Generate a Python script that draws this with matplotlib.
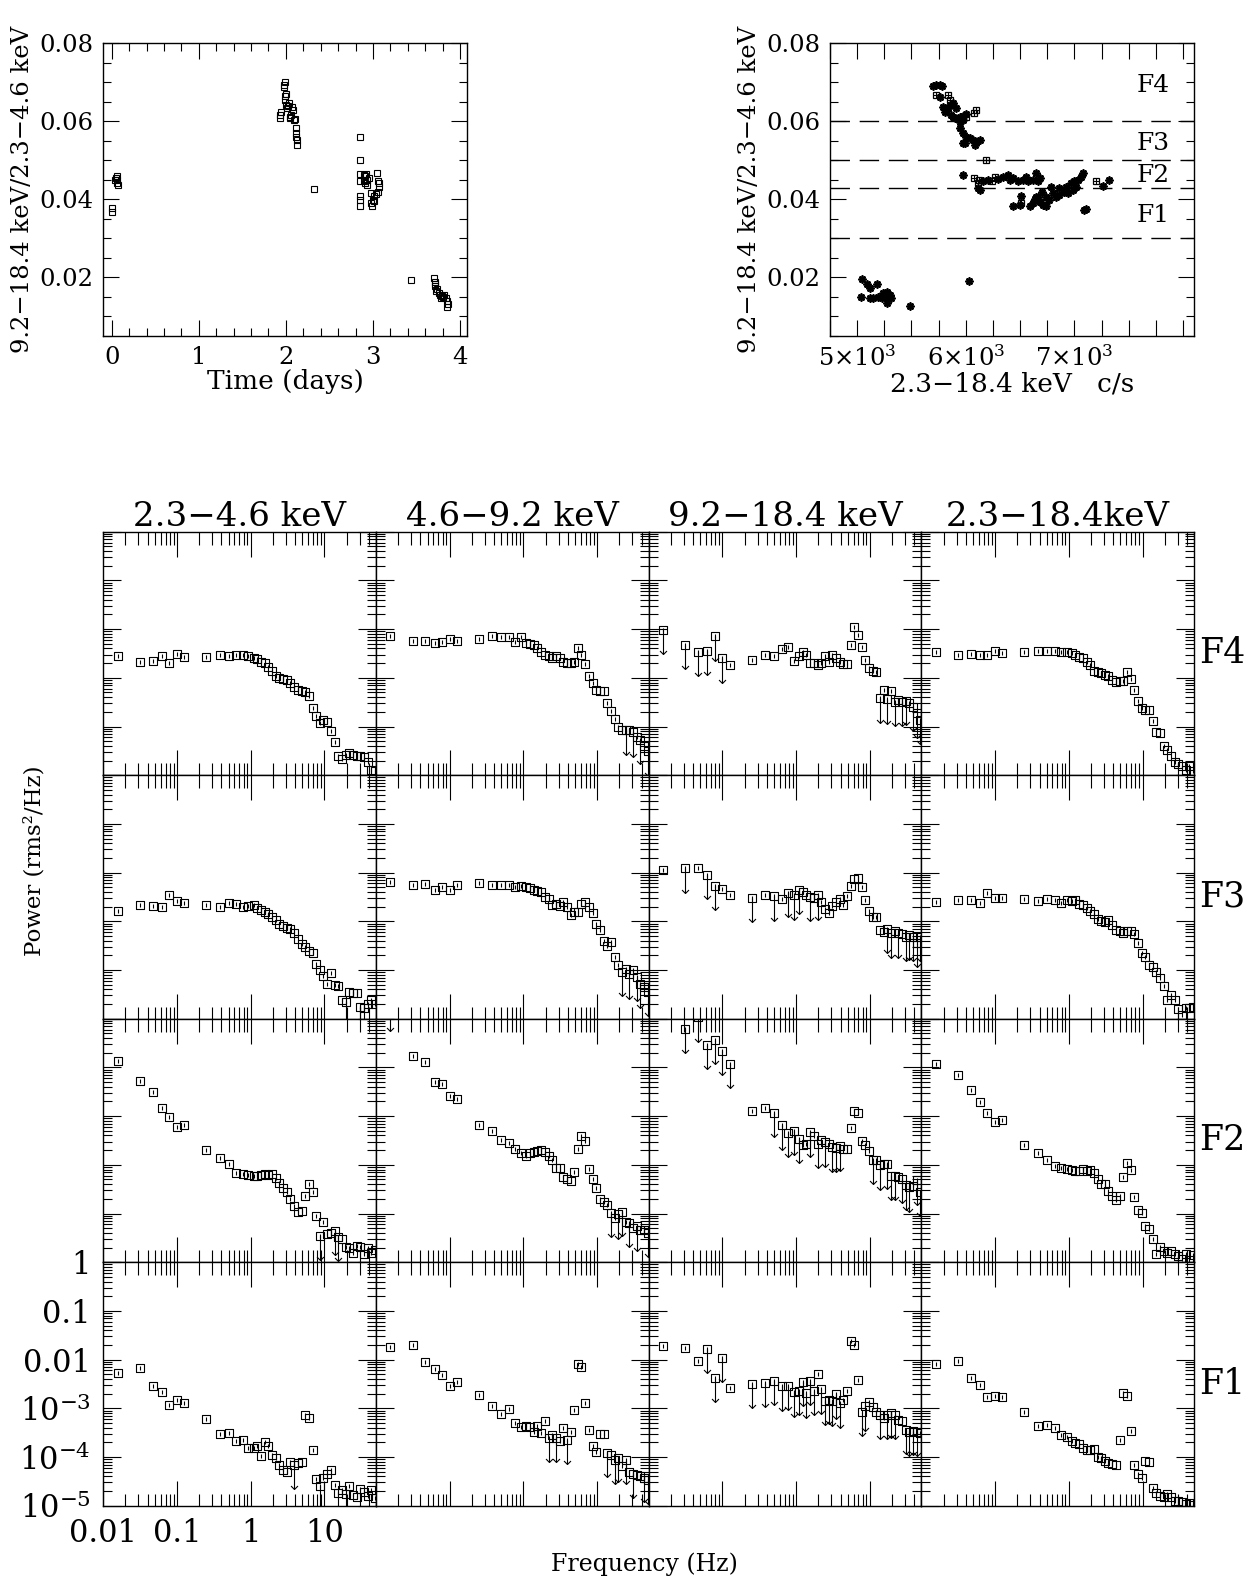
import os

os.environ.setdefault("MPLBACKEND", "Agg")

import numpy as np
import matplotlib.pyplot as plt
from matplotlib.path import Path
from matplotlib.ticker import (LogLocator, MultipleLocator, FuncFormatter,
                               FormatStrFormatter)

plt.rcParams["font.family"] = ["DejaVu Serif"]
plt.rcParams["mathtext.fontset"] = "dejavuserif"
plt.rcParams["axes.linewidth"] = 1.0

# ---------------- hardness ratio vs time (top left) ----------------
time_days = [0.0, 0.0, 0.05, 0.057, 0.065, 0.077, 0.038, 0.057,
             1.927, 1.935, 1.943, 1.973, 1.981, 1.992, 1.992, 2.004, 2.011,
             2.031, 2.042, 2.057, 2.069, 2.080, 2.088, 2.100, 2.111, 2.119,
             2.126, 2.126, 2.119, 1.985, 2.000, 2.020, 2.050,
             2.318,
             2.847, 2.847, 2.847, 2.847, 2.847, 2.847, 2.847, 2.893, 2.912,
             2.931, 2.912, 2.931, 2.893, 2.977, 2.989, 3.000, 2.977, 3.008,
             3.015, 3.046, 3.054, 3.065, 3.054, 3.038, 3.073, 2.920, 2.950,
             3.437,
             3.705, 3.709, 3.716, 3.720, 3.736, 3.755, 3.774, 3.782, 3.801,
             3.812, 3.843, 3.851, 3.858, 3.851, 3.712, 3.790]
hr_time = [0.0378, 0.0369, 0.0455, 0.0449, 0.0443, 0.0437, 0.0450, 0.0459,
           0.0608, 0.0617, 0.0625, 0.0693, 0.0689, 0.0664, 0.0655, 0.0642, 0.0634,
           0.0647, 0.0608, 0.0617, 0.0638, 0.0629, 0.0604, 0.0606, 0.0582, 0.0570,
           0.0553, 0.0540, 0.0561, 0.0700, 0.0670, 0.0640, 0.0612,
           0.0426,
           0.0559, 0.0501, 0.0466, 0.0446, 0.0408, 0.0399, 0.0382, 0.0463, 0.0459,
           0.0450, 0.0443, 0.0437, 0.0446, 0.0391, 0.0382, 0.0399, 0.0416, 0.0408,
           0.0395, 0.0467, 0.0446, 0.0433, 0.0420, 0.0414, 0.0443, 0.0465, 0.0455,
           0.0193,
           0.0199, 0.0188, 0.0177, 0.0165, 0.0170, 0.0160, 0.0154, 0.0148, 0.0151,
           0.0155, 0.0148, 0.0139, 0.0133, 0.0125, 0.0183, 0.0152]

# ---------------- hardness ratio vs count rate (top right) ----------------
rate_star = [5698, 5729, 5760, 5784, 5790, 5821, 5851, 5882, 5913, 5806, 5867,
             5897, 5943, 5974, 6005, 5974, 5943, 5882, 5836, 5766,
             5943, 5974, 6005, 5989, 6035, 6066, 6097, 6127, 6081, 5974,
             5974, 6112, 6127, 6158, 6342, 6388, 6434, 6479, 6525, 6556, 6571,
             6617, 6648, 6663, 6679, 6300, 6410, 6200,
             6434, 6510, 6495, 6587, 6617, 6633, 6663, 6679, 6709, 6740, 6740,
             6770, 6801, 6832, 6862, 6908, 6939, 6924, 6970, 7000, 7031, 7061,
             7077, 7015, 6985, 6786, 6862, 6700, 6650,
             7092, 7107, 7261, 7322,
             5049, 5086, 5116, 5178, 5031, 5116, 5147, 5193, 5239, 5270, 5300,
             5315, 5270, 5224, 5255, 5286, 5490, 6026]
hr_star = [0.0691, 0.0693, 0.0693, 0.0691, 0.0638, 0.0629, 0.0642, 0.0646, 0.0633,
           0.0625, 0.0616, 0.0608, 0.0612, 0.0614, 0.0619, 0.0603, 0.0599, 0.0612,
           0.0633, 0.0662,
           0.0582, 0.0570, 0.0561, 0.0544, 0.0557, 0.0553, 0.0548, 0.0553, 0.0540,
           0.0544,
           0.0463, 0.0430, 0.0425, 0.0446, 0.0458, 0.0463, 0.0454, 0.0446, 0.0450,
           0.0458, 0.0446, 0.0450, 0.0467, 0.0446, 0.0454, 0.0452, 0.0450, 0.0450,
           0.0382, 0.0409, 0.0385, 0.0382, 0.0390, 0.0400, 0.0407, 0.0394, 0.0385,
           0.0382, 0.0407, 0.0398, 0.0416, 0.0407, 0.0411, 0.0420, 0.0416, 0.0433,
           0.0442, 0.0446, 0.0450, 0.0458, 0.0467, 0.0433, 0.0424, 0.0433, 0.0429,
           0.0420, 0.0405,
           0.0372, 0.0375, 0.0435, 0.0450,
           0.0196, 0.0182, 0.0173, 0.0182, 0.0151, 0.0147, 0.0147, 0.0151, 0.0160,
           0.0164, 0.0156, 0.0147, 0.0134, 0.0147, 0.0155, 0.0150, 0.0126, 0.0192]
rate_box = [5729, 5836, 6072, 6097, 6182, 6072, 6121, 6112, 6244, 6265, 6510,
            7199, 5851, 6005]
hr_box = [0.0668, 0.0668, 0.0622, 0.0628, 0.0501, 0.0454, 0.0450, 0.0442,
          0.0446, 0.0458, 0.0392, 0.0446, 0.0655, 0.0610]
hr_cuts = [0.060, 0.050, 0.043, 0.030]
state_names = ["F4", "F3", "F2", "F1"]
state_label_hr = [0.0693, 0.0544, 0.0460, 0.0360]

# ---------------- power spectra ----------------
freq_hz = [0.0156, 0.0313, 0.0469, 0.0625, 0.0781, 0.1, 0.125, 0.25, 0.38,
           0.5, 0.64, 0.78, 0.93,
           1.1, 1.23, 1.38, 1.55, 1.74, 1.95, 2.2, 2.45, 2.75, 3.1, 3.45, 3.9,
           4.35, 4.9, 5.5, 6.1, 6.9, 7.7, 8.7, 9.7, 10.9, 12.2, 13.7, 15.4,
           17.3, 19.4, 21.7, 24.4, 27.4, 30.7, 34.4, 38.6, 43.3, 48.6]
band_titles = ["2.3\u22124.6 keV", "4.6\u22129.2 keV", "9.2\u221218.4 keV",
               "2.3\u221218.4keV"]

# log10 of power (rms^2/Hz)
f4_soft = [-2.56, -2.67, -2.65, -2.55, -2.69, -2.51, -2.58, -2.58, -2.53, -2.55,
           -2.53, -2.53, -2.56,
           -2.60, -2.62, -2.67, -2.70, -2.77, -2.87, -2.97, -3.01, -3.03, -3.04,
           -3.11, -3.19, -3.25, -3.28, -3.29, -3.38, -3.62, -3.79, -3.93, -3.87,
           -3.90, -4.10, -4.31, -4.61, -4.67, -4.58, -4.55, -4.58, -4.61, -4.61,
           -4.63, -4.72, -4.89, -4.92]
f4_mid = [-2.15, -2.24, -2.24, -2.29, -2.26, -2.20, -2.24, -2.20, -2.15, -2.17,
          -2.17, -2.26, -2.17,
          -2.28, -2.30, -2.32, -2.39, -2.46, -2.53, -2.56, -2.60, -2.56, -2.60,
          -2.67, -2.70, -2.70, -2.67, -2.39, -2.53, -2.71, -2.97, -3.10, -3.25,
          -3.27, -3.27, -3.52, -3.69, -3.85, -4.01, -4.07, -4.08, -4.08, -4.12,
          -4.22, -4.27, -4.41, -4.51]
f4_hard = [-2.02, -2.32, -2.46, -2.45, -2.15, -2.60, -2.73, -2.63, -2.53, -2.55,
           -2.41, -2.37, -2.65,
           -2.56, -2.48, -2.53, -2.70, -2.70, -2.73, -2.70, -2.56, -2.67, -2.53,
           -2.60, -2.67, -2.71, -2.71, -2.32, -1.95, -2.13, -2.36, -2.63, -2.80,
           -2.87, -2.89, -3.42, -3.25, -3.44, -3.28, -3.49, -3.45, -3.49, -3.47,
           -3.52, -3.59, -3.73, -3.86]
f4_total = [-2.47, -2.53, -2.51, -2.53, -2.53, -2.45, -2.49, -2.47, -2.44, -2.44,
            -2.44, -2.46, -2.48,
            -2.49, -2.53, -2.58, -2.60, -2.67, -2.73, -2.87, -2.89, -2.90, -2.94,
            -2.97, -3.04, -3.08, -3.06, -3.06, -2.89, -3.03, -3.25, -3.47, -3.62,
            -3.67, -3.67, -3.88, -4.12, -4.13, -4.41, -4.48, -4.61, -4.72, -4.78,
            -4.82, -4.89, -4.82, -4.92]
f4_ul = [[], [40, 42, 44, 46], [0, 1, 2, 3, 4, 5, 35, 37, 39, 41, 42, 44, 45, 46], []]

f3_soft = [-2.79, -2.66, -2.69, -2.71, -2.47, -2.58, -2.62, -2.67, -2.71, -2.62,
           -2.65, -2.71, -2.69,
           -2.67, -2.72, -2.76, -2.81, -2.84, -2.91, -2.98, -3.05, -3.10, -3.14,
           -3.15, -3.25, -3.36, -3.47, -3.53, -3.60, -3.65, -3.87, -4.01, -4.13,
           -4.28, -4.07, -4.31, -4.33, -4.61, -4.66, -4.45, -4.47, -4.48, -4.77,
           -4.79, -4.70, -4.62, -4.70]
f3_mid = [-2.19, -2.26, -2.23, -2.35, -2.30, -2.36, -2.26, -2.21, -2.26, -2.26,
          -2.26, -2.30, -2.28,
          -2.29, -2.31, -2.35, -2.38, -2.40, -2.50, -2.54, -2.67, -2.64, -2.69,
          -2.61, -2.71, -2.88, -2.81, -2.81, -2.64, -2.61, -2.71, -2.83, -3.06,
          -3.17, -3.40, -3.51, -3.43, -3.73, -3.90, -4.04, -3.97, -4.09, -3.99,
          -4.14, -4.28, -4.35, -4.45]
f3_hard = [-1.95, -1.91, -1.90, -2.04, -2.27, -2.33, -2.45, -2.52, -2.45, -2.49,
           -2.54, -2.42, -2.47,
           -2.35, -2.40, -2.45, -2.50, -2.52, -2.47, -2.60, -2.74, -2.83, -2.69,
           -2.60, -2.54, -2.67, -2.49, -2.28, -2.13, -2.11, -2.30, -2.56, -2.78,
           -2.91, -2.91, -3.17, -3.22, -3.15, -3.25, -3.20, -3.25, -3.27, -3.32,
           -3.29, -3.32, -3.44, -3.32]
f3_total = [-2.61, -2.56, -2.57, -2.62, -2.42, -2.52, -2.52, -2.54, -2.59, -2.54,
            -2.57, -2.62, -2.57,
            -2.58, -2.56, -2.64, -2.67, -2.72, -2.78, -2.86, -2.95, -2.99, -3.01,
            -2.98, -3.08, -3.17, -3.19, -3.25, -3.20, -3.19, -3.27, -3.44, -3.65,
            -3.73, -3.90, -3.94, -4.04, -4.16, -4.33, -4.62, -4.52, -4.62, -4.81,
            -4.93, -4.79, -4.79, -4.77]
f3_ul = [[38, 42, 43], [39, 41, 43, 44, 46],
         [1, 3, 4, 7, 9, 11, 12, 13, 16, 18, 37, 38, 40, 42, 43, 44, 45, 46], []]

f2_soft = [-0.86, -1.27, -1.51, -1.83, -2.02, -2.23, -2.19, -2.69, -2.86, -2.99,
           -3.16, -3.18, -3.20,
           -3.23, -3.22, -3.20, -3.18, -3.21, -3.19, -3.27, -3.37, -3.47, -3.56,
           -3.70, -3.85, -3.97, -3.95, -3.64, -3.39, -3.56, -4.05, -4.46, -4.18,
           -4.43, -4.40, -4.36, -4.48, -4.52, -4.68, -4.71, -4.81, -4.67, -4.68,
           -4.84, -4.71, -4.81, -4.74]
f2_mid = [0.25, -0.77, -0.89, -1.29, -1.35, -1.59, -1.64, -2.19, -2.31, -2.49,
          -2.56, -2.67, -2.76,
          -2.81, -2.75, -2.74, -2.72, -2.70, -2.73, -2.82, -2.91, -3.06, -3.06,
          -3.25, -3.29, -3.34, -3.15, -2.67, -2.40, -2.51, -3.08, -3.29, -3.47,
          -3.71, -3.76, -3.83, -3.98, -4.09, -4.02, -3.97, -4.18, -4.19, -4.29,
          -4.26, -4.33, -4.33, -4.40]
f2_hard = [np.nan, -0.21, 0.03, -0.54, -0.43, -0.66, -0.92, -1.89, -1.84, -1.93,
           -2.19, -2.34, -2.30,
           -2.47, -2.60, -2.58, -2.33, -2.40, -2.57, -2.50, -2.54, -2.58, -2.64,
           -2.65, -2.62, -2.67, -2.67, -2.24, -1.90, -1.94, -2.52, -2.60, -2.72,
           -2.90, -2.91, -3.01, -2.98, -2.99, -3.22, -3.22, -3.25, -3.29, -3.42,
           -3.46, -3.44, -3.32, -3.56]
f2_total = [-0.92, -1.15, -1.47, -1.72, -1.93, -2.13, -2.08, -2.59, -2.75, -2.90,
            -3.03, -3.07, -3.09,
            -3.10, -3.12, -3.12, -3.08, -3.12, -3.10, -3.17, -3.29, -3.39, -3.40,
            -3.53, -3.65, -3.73, -3.65, -3.25, -2.97, -3.10, -3.67, -3.93, -3.99,
            -4.25, -4.32, -4.52, -4.83, -4.69, -4.76, -4.81, -4.77, -4.84, -4.88,
            -4.93, -4.83, -4.96, -4.86]
f2_ul = [[31, 35, 36], [0, 36, 38, 39, 41, 43, 46],
         [1, 2, 3, 4, 5, 6, 9, 10, 11, 12, 13, 16, 18, 20, 22, 23, 24, 33, 35,
          37, 38, 39, 41, 42, 43, 45, 46], []]

f1_soft = [-2.27, -2.18, -2.55, -2.66, -2.94, -2.83, -2.90, -3.22, -3.53, -3.50,
           -3.67, -3.65, -3.82,
           -3.81, -3.78, -3.97, -3.69, -3.78, -3.95, -4.02, -4.16, -4.26, -4.30,
           -4.11, -4.16, -4.13, -4.11, -3.13, -3.19, -3.85, -4.45, -4.60, -4.43,
           -4.35, -4.26, -4.58, -4.74, -4.67, -4.76, -4.60, -4.79, -4.83, -4.65,
           -4.72, -4.81, -4.67, -4.84]
f1_mid = [-1.75, -1.71, -2.05, -2.19, -2.31, -2.55, -2.46, -2.72, -2.95, -3.12,
          -3.01, -3.30, -3.39,
          -3.37, -3.39, -3.48, -3.37, -3.51, -3.27, -3.61, -3.54, -3.61, -3.68,
          -3.41, -3.65, -3.48, -3.03, -2.10, -2.16, -2.89, -3.44, -3.78, -3.89,
          -3.53, -3.53, -3.92, -3.95, -4.06, -4.02, -4.19, -4.06, -4.30, -4.35,
          -4.37, -4.40, -4.43, -4.47]
f1_hard = [-1.72, -1.77, -2.03, -1.78, -2.38, -1.97, -2.59, -2.50, -2.48, -2.43,
           -2.55, -2.54, -2.67,
           -2.64, -2.46, -2.69, -2.44, -2.64, -2.30, -2.61, -2.85, -2.83, -2.86,
           -2.71, -2.90, -2.83, -2.64, -1.62, -1.70, -2.42, -3.07, -2.96, -2.87,
           -2.98, -3.08, -3.13, -3.19, -3.13, -3.10, -3.13, -3.24, -3.27, -3.44,
           -3.48, -3.46, -3.48, -3.51]
f1_total = [-2.10, -2.03, -2.38, -2.52, -2.76, -2.74, -2.76, -3.07, -3.36, -3.34,
            -3.41, -3.54, -3.58,
            -3.67, -3.72, -3.74, -3.81, -3.85, -3.85, -3.83, -4.01, -4.02, -4.09,
            -4.13, -4.15, -4.16, -3.65, -2.69, -2.74, -3.46, -4.17, -4.35, -4.43,
            -4.09, -4.10, -4.64, -4.74, -4.81, -4.83, -4.76, -4.83, -4.90, -4.91,
            -4.92, -4.97, -4.95, -4.98]
f1_ul = [[24, 31, 36, 38], [19, 21, 24, 35, 37, 38, 40, 42, 45, 46],
         [3, 4, 5, 7, 8, 9, 10, 11, 12, 13, 14, 15, 16, 17, 19, 20, 21, 22, 23,
          24, 30, 31, 35, 37, 38, 39, 42, 43, 44, 45], []]

spectra_rows = [
    ("F4", [f4_soft, f4_mid, f4_hard, f4_total], f4_ul),
    ("F3", [f3_soft, f3_mid, f3_hard, f3_total], f3_ul),
    ("F2", [f2_soft, f2_mid, f2_hard, f2_total], f2_ul),
    ("F1", [f1_soft, f1_mid, f1_hard, f1_total], f1_ul),
]

# ---------------- markers ----------------
box_bar = Path([(-1, -1), (1, -1), (1, 1), (-1, 1), (-1, -1), (0, -0.45), (0, 0.45)],
               [Path.MOVETO, Path.LINETO, Path.LINETO, Path.LINETO, Path.LINETO,
                Path.MOVETO, Path.LINETO])
arrow_head = Path([(-1, 1), (0, 0), (1, 1)], [Path.MOVETO, Path.LINETO, Path.LINETO])
UL_DEX = 0.5

W, H = 1252, 1579
fig = plt.figure(figsize=(W / 100, H / 100), dpi=100)


def px_axes(left, top, width, height):
    return fig.add_axes([left / W, 1 - (top + height) / H, width / W, height / H])


def hr_axis(ax):
    ax.set_ylim(0.005, 0.08)
    ax.yaxis.set_major_locator(MultipleLocator(0.02))
    ax.yaxis.set_minor_locator(MultipleLocator(0.005))
    ax.yaxis.set_major_formatter(FormatStrFormatter("%.2f"))
    ax.tick_params(which="both", direction="in", top=True, right=True,
                   width=0.8, labelsize=17.5, pad=7)
    ax.tick_params(which="major", length=11.5)
    ax.tick_params(which="minor", length=6)
    ax.set_ylabel("9.2\u221218.4 keV/2.3\u22124.6 keV", fontsize=17.5, labelpad=4)


# top left: hardness vs time
ax = px_axes(103, 43.3, 364, 292.7)
ax.plot(time_days, hr_time, ls="none", marker="s", ms=4, mfc="none",
        mec="k", mew=0.8)
ax.set_xlim(-0.1, 4.08)
ax.xaxis.set_major_locator(MultipleLocator(1))
ax.xaxis.set_minor_locator(MultipleLocator(0.2))
hr_axis(ax)
ax.set_xlabel("Time (days)", fontsize=19, labelpad=0)

# top right: hardness vs intensity
ax = px_axes(830, 43.3, 364, 292.7)
ax.plot(rate_star, hr_star, ls="none", marker=(8, 2, 0), ms=5.8, mec="k",
        mew=1.3)
ax.plot(rate_box, hr_box, ls="none", marker="s", ms=4.5, mfc="none", mec="k",
        mew=0.9)
ax.plot(rate_box, hr_box, ls="none", marker="+", ms=4.5, mec="k", mew=0.8)
for y in hr_cuts:
    ax.axhline(y, color="k", lw=1.0, ls=(0, (14, 7)))
for name, y in zip(state_names, state_label_hr):
    ax.text(7721, y, name, fontsize=18, ha="center", va="center")
ax.set_xlim(4750, 8100)
ax.xaxis.set_major_locator(MultipleLocator(250))


def rate_fmt(v, pos):
    k = v / 1000.0
    if abs(k - round(k)) < 1e-6 and v < 7500:
        return r"$%d{\times}10^{3}$" % round(k)
    return ""


ax.xaxis.set_major_formatter(FuncFormatter(rate_fmt))
hr_axis(ax)
ax.tick_params(axis="x", which="major", length=11.5)
ax.set_xlabel("2.3\u221218.4 keV   c/s", fontsize=19, labelpad=0)

# power spectra grid
GX0, GY0, GW, GH = 103.3, 531.7, 272.7, 243.5
freq = np.array(freq_hz)
for r, (state, bands, ul_lists) in enumerate(spectra_rows):
    for c in range(4):
        ax = px_axes(GX0 + c * GW, GY0 + r * GH, GW, GH)
        power = 10 ** np.array(bands[c], dtype=float)
        ax.plot(freq, power, ls="none", marker=box_bar, ms=6.2, mfc="none",
                mec="k", mew=0.8)
        ul = np.array(ul_lists[c], dtype=int)
        if len(ul):
            tip = power[ul] / 10 ** UL_DEX
            ax.vlines(freq[ul], tip, power[ul], color="k", lw=0.8)
            ax.plot(freq[ul], tip, ls="none", marker=arrow_head, ms=5,
                    mfc="none", mec="k", mew=0.8)
        ax.set_xscale("log")
        ax.set_yscale("log")
        ax.set_xlim(0.01, 50)
        ax.set_ylim(1e-5, 1)
        for axis in (ax.xaxis, ax.yaxis):
            axis.set_major_locator(LogLocator(10, numticks=30))
            axis.set_minor_locator(LogLocator(10, subs=np.arange(2, 10) * 1.0,
                                              numticks=30))
        ax.tick_params(which="both", direction="in", top=True, right=True,
                       width=0.8)
        ax.tick_params(axis="x", which="major", length=18)
        ax.tick_params(axis="x", which="minor", length=9)
        ax.tick_params(axis="y", which="major", length=13)
        ax.tick_params(axis="y", which="minor", length=6.5)
        if r == 3 and c == 0:
            ax.set_xticks([0.01, 0.1, 1, 10], labels=["0.01", "0.1", "1", "10"])
            ax.set_yticks([1e-5, 1e-4, 1e-3, 1e-2, 0.1, 1],
                          labels=[r"$10^{-5}$", r"$10^{-4}$", r"$10^{-3}$",
                                  "0.01", "0.1", "1"])
            ax.tick_params(labelsize=22)
            ax.tick_params(axis="x", pad=9)
            ax.tick_params(axis="y", pad=9)
        else:
            ax.tick_params(labelbottom=False, labelleft=False)
        if r == 0:
            ax.text(0.5, 1.022, band_titles[c], transform=ax.transAxes,
                    ha="center", va="baseline", fontsize=24.5)
    fig.text(1222 / W, 1 - (GY0 + (r + 0.5) * GH) / H, state, fontsize=25,
             ha="center", va="center")

fig.text(35 / W, 1 - 861 / H, "Power (rms\u00b2/Hz)", rotation=90, fontsize=16.5,
         ha="center", va="center")
fig.text(644 / W, 1 - 1564 / H, "Frequency (Hz)", fontsize=17,
         ha="center", va="center")

fig.savefig("out.png", dpi=100)
plt.close(fig)
